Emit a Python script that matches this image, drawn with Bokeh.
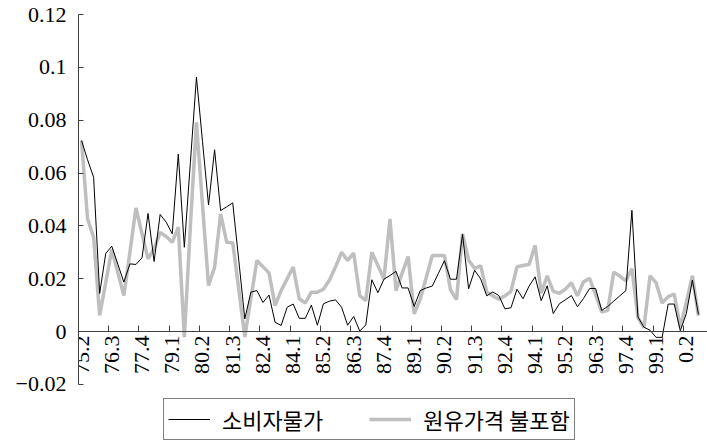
import math

from bokeh.embed import file_html
from bokeh.models import (ColumnDataSource, CustomJSTickFormatter, FixedTicker,
                          Legend, LegendItem, LinearAxis, Range1d)
from bokeh.plotting import figure
from bokeh.resources import INLINE

# Quarterly inflation rates, 1975 Q2 to 2000 Q4 (one value per quarter)
cpi = [
    0.0723, 0.0650, 0.0584, 0.0144, 0.0295, 0.0323, 0.0255, 0.0187, 0.0256, 0.0254,
    0.0279, 0.0447, 0.0265, 0.0443, 0.0414, 0.0370, 0.0672, 0.0319, 0.0640, 0.0963,
    0.0720, 0.0479, 0.0688, 0.0458, 0.0472, 0.0487, 0.0270, 0.0048, 0.0149, 0.0155,
    0.0110, 0.0138, 0.0035, 0.0023, 0.0092, 0.0104, 0.0050, 0.0050, 0.0100, 0.0024,
    0.0105, 0.0115, 0.0120, 0.0092, 0.0024, 0.0057, 0.0002, 0.0025, 0.0196, 0.0147,
    0.0198, 0.0212, 0.0228, 0.0165, 0.0165, 0.0095, 0.0155, 0.0165, 0.0172, 0.0220,
    0.0268, 0.0198, 0.0198, 0.0368, 0.0162, 0.0232, 0.0199, 0.0135, 0.0150, 0.0136,
    0.0086, 0.0090, 0.0160, 0.0124, 0.0172, 0.0207, 0.0117, 0.0173, 0.0068, 0.0105,
    0.0120, 0.0136, 0.0094, 0.0125, 0.0163, 0.0163, 0.0080, 0.0095, 0.0115, 0.0135,
    0.0155, 0.0459, 0.0055, 0.0016, 0.0005, -0.0022, -0.0022, 0.0104, 0.0104, 0.0003,
    0.0068, 0.0195, 0.0065,
]
cpi_ex_oil = [
    0.0723, 0.0426, 0.0357, 0.0061, 0.0185, 0.0310, 0.0223, 0.0136, 0.0300, 0.0468,
    0.0370, 0.0275, 0.0313, 0.0375, 0.0360, 0.0338, 0.0395, -0.0021, 0.0400, 0.0792,
    0.0480, 0.0174, 0.0243, 0.0445, 0.0338, 0.0336, 0.0160, -0.0021, 0.0125, 0.0269,
    0.0245, 0.0222, 0.0098, 0.0155, 0.0200, 0.0244, 0.0124, 0.0108, 0.0149, 0.0149,
    0.0160, 0.0195, 0.0245, 0.0300, 0.0269, 0.0297, 0.0136, 0.0117, 0.0300, 0.0250,
    0.0199, 0.0426, 0.0155, 0.0220, 0.0284, 0.0067, 0.0122, 0.0205, 0.0288, 0.0288,
    0.0288, 0.0158, 0.0121, 0.0370, 0.0270, 0.0239, 0.0249, 0.0150, 0.0135, 0.0122,
    0.0135, 0.0152, 0.0245, 0.0250, 0.0254, 0.0326, 0.0145, 0.0211, 0.0152, 0.0145,
    0.0160, 0.0185, 0.0135, 0.0188, 0.0201, 0.0140, 0.0074, 0.0080, 0.0225, 0.0210,
    0.0192, 0.0238, 0.0053, 0.0015, 0.0211, 0.0185, 0.0108, 0.0132, 0.0142, 0.0016,
    0.0110, 0.0211, 0.0060,
]
tick_labels = [
    "75.2", "76.3", "77.4", "79.1", "80.2", "81.3", "82.4", "84.1", "85.2", "86.3",
    "87.4", "89.1", "90.2", "91.3", "92.4", "94.1", "95.2", "96.3", "97.4", "99.1", "0.2",
]
y_ticks = [-0.02, 0.0, 0.02, 0.04, 0.06, 0.08, 0.1, 0.12]
series_names = ["소비자물가", "원유가격 불포함"]

n_quarters = 104
label_every = 5
label_pos = [i * label_every for i in range(len(tick_labels))]
boundaries = [k - 0.5 for k in range(0, n_quarters + 1, label_every)]

src = ColumnDataSource(dict(q=list(range(len(cpi))), cpi=cpi, ex=cpi_ex_oil))

NUM_FONT = "Liberation Serif"
AXIS_COLOR = "#404040"

# the frame runs to the bottom of the canvas so the key can sit inside it;
# the value axis itself is bounded to -0.02 .. 0.12
p = figure(width=707, height=442,
           x_range=Range1d(-0.5, n_quarters - 0.5), y_range=Range1d(-0.042, 0.12),
           output_backend="svg", toolbar_location=None, x_axis_location=None,
           min_border_left=78, min_border_right=0, min_border_top=14, min_border_bottom=0)
p.grid.grid_line_color = None
p.outline_line_color = None
p.background_fill_color = "white"

r_ex = p.line("q", "ex", source=src, line_color="#bfbfbf", line_width=3.5)
r_cpi = p.line("q", "cpi", source=src, line_color="black", line_width=1)

# value axis
yax = p.yaxis[0]
yax.bounds = (-0.02, 0.12)
yax.ticker = FixedTicker(ticks=y_ticks, minor_ticks=[])
yax.formatter = CustomJSTickFormatter(code="""
    if (Math.abs(tick) < 1e-9) return "0";
    let s = Math.abs(tick).toFixed(2);
    if (s.endsWith("0")) s = s.slice(0, -1);
    return (tick < 0 ? "\u2212" : "") + s;
""")
yax.major_tick_in = 5
yax.major_tick_out = 0
yax.minor_tick_in = 0
yax.minor_tick_out = 0
yax.major_label_standoff = 12
yax.axis_line_color = AXIS_COLOR
yax.major_tick_line_color = AXIS_COLOR
yax.major_label_text_font = NUM_FONT
yax.major_label_text_font_size = "22px"
yax.major_label_text_color = "black"

# category axis crossing at zero
xax = LinearAxis(fixed_location=0,
                 ticker=FixedTicker(ticks=label_pos, minor_ticks=boundaries))
xax.major_label_overrides = {pos: lab for pos, lab in zip(label_pos, tick_labels)}
xax.major_tick_in = 0
xax.major_tick_out = 0
xax.minor_tick_in = 6
xax.minor_tick_out = 0
xax.axis_line_color = AXIS_COLOR
xax.minor_tick_line_color = AXIS_COLOR
xax.major_label_orientation = math.pi / 2
xax.major_label_standoff = 4
xax.major_label_text_font = NUM_FONT
xax.major_label_text_font_size = "22px"
xax.major_label_text_color = "black"
p.add_layout(xax, "below")

legend = Legend(items=[LegendItem(label=series_names[0], renderers=[r_cpi]),
                       LegendItem(label=series_names[1], renderers=[r_ex])],
                orientation="horizontal", location=(85, 2))
legend.label_text_font = "Noto Sans CJK KR"
legend.label_text_font_size = "22px"
legend.label_text_color = "black"
legend.glyph_width = 42
legend.label_standoff = 12
legend.spacing = 46
legend.padding = 4
legend.border_line_color = "black"
legend.border_line_width = 1
legend.background_fill_alpha = 1
p.add_layout(legend)

open("out.html", "w").write(file_html(p, INLINE))
